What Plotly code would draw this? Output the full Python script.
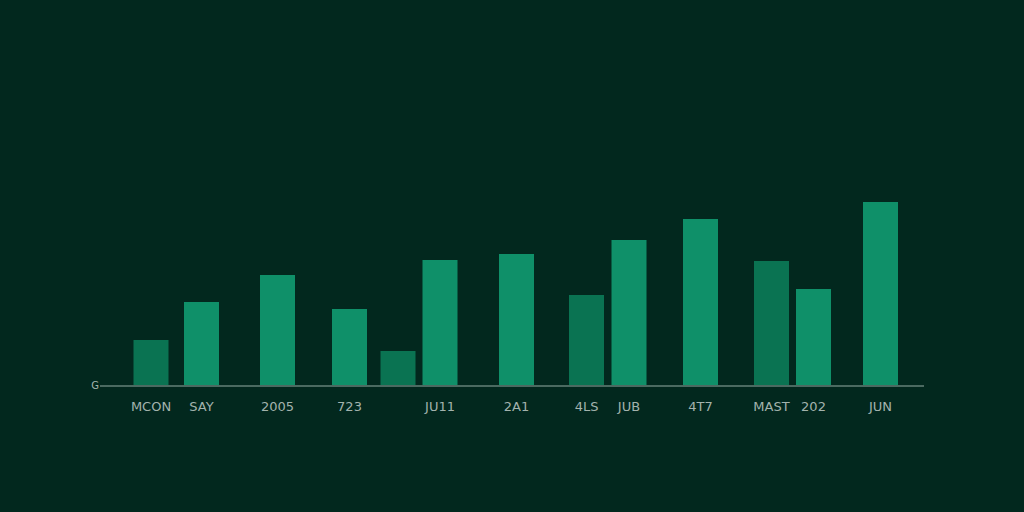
import plotly.graph_objects as go

# bar positions along the axis (axis units) and heights
x_pos = [5.1, 10.15, 17.75, 24.95, 29.8, 34.0, 41.65, 48.65, 52.9, 60.05, 67.15, 71.35, 78.05]
heights = [45, 83, 110, 76, 34, 125, 131, 90, 145, 166, 124, 96, 183]
muted = [True, False, False, False, True, False, False, True, False, False, True, False, False]
tick_labels = ["MCON", "SAY", "2005", "723", "", "JU11", "2A1", "4LS", "JUB", "4T7", "MAST", "202", "JUN"]

BG = "#02281e"
BRIGHT = "#0f9069"
DARK = "#0a7352"

colors = [DARK if m else BRIGHT for m in muted]

fig = go.Figure(
    go.Bar(
        x=x_pos,
        y=heights,
        width=3.5,
        marker=dict(color=colors, line=dict(width=0)),
    )
)

fig.update_layout(
    width=1024,
    height=512,
    paper_bgcolor=BG,
    plot_bgcolor=BG,
    margin=dict(l=100, r=100, t=85, b=127),
    showlegend=False,
    font=dict(family="DejaVu Sans", color="#a3b3ad", size=13),
)

fig.update_xaxes(
    range=[0, 82.4],
    tickmode="array",
    tickvals=x_pos,
    ticktext=tick_labels,
    showgrid=False,
    zeroline=False,
    showline=True,
    linecolor="#4b6a61",
    linewidth=2,
    ticks="",
    ticklabelstandoff=8,
)

fig.update_yaxes(
    range=[0, 300],
    tickmode="array",
    tickvals=[0],
    ticktext=["G"],
    tickfont=dict(size=10, color="#a3b3ad"),
    showgrid=False,
    zeroline=False,
    showline=False,
    ticks="",
)

# drop the browser's default body margin so the figure fills the window
fig.write_html(
    "out.html",
    config={"displayModeBar": False},
    post_script="document.body.style.margin='0';",
)
